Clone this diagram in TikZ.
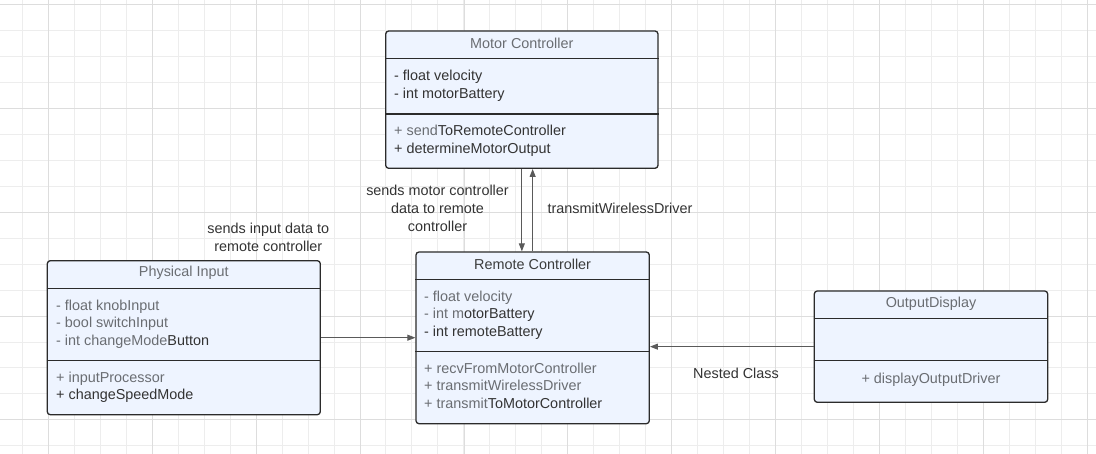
\documentclass[tikz,border=0pt]{standalone}
\usepackage{fontspec}
\setmainfont{Liberation Sans}
\usetikzlibrary{arrows.meta}
\definecolor{gridminor}{HTML}{EDEDED}
\definecolor{gridmajor}{HTML}{DDDDDD}
\definecolor{boxfill}{HTML}{EEF4FF}
\definecolor{boxline}{HTML}{2B2B2B}
\definecolor{tgray}{HTML}{6A6D72}
\definecolor{tdark}{HTML}{333333}
\definecolor{wire}{HTML}{5A5A5A}
\tikzset{
  classbox/.style={draw=boxline,line width=1.3pt,fill=boxfill,rounded corners=3pt,inner sep=0pt},
  divider/.style={draw=boxline,line width=1.3pt},
  member/.style={anchor=base west,inner sep=0pt,text=tgray,font=\fontsize{14.4}{17}\selectfont},
  title/.style={inner sep=0pt,text=tgray,font=\fontsize{14.4}{17}\selectfont},
  lbl/.style={inner sep=0pt,text=tdark,align=center,font=\fontsize{14.4}{18}\selectfont},
  wirearrow/.style={draw=wire,line width=0.9pt,-{Triangle[length=8pt,width=6pt]}}
}
\begin{document}
\begin{tikzpicture}[x=1pt,y=-1pt]
      \useasboundingbox[fill=white] (0,0) rectangle (1096,454);
      % grid
      \foreach \k in {0,...,41} \draw[gridminor,line width=0.8pt] ({22.3+25.97*\k},0) -- ++(0,454);
      \foreach \k in {0,...,17} \draw[gridminor,line width=0.8pt] (0,{4.3+25.97*\k}) -- ++(1096,0);
      \foreach \k in {0,...,10} \draw[gridmajor,line width=0.8pt] ({48.3+103.9*\k},0) -- ++(0,454);
      \foreach \k in {0,...,4} \draw[gridmajor,line width=0.8pt] (0,{4.3+103.9*\k}) -- ++(1096,0);

      % Motor Controller
      \node[classbox,minimum width=272.3pt,minimum height=137.3pt] (motor) at (521.85,99.65) {};
      \draw[divider] (motor.west |- 0,58.7) -- (motor.east |- 0,58.7);
      \draw[divider] (motor.west |- 0,114) -- (motor.east |- 0,114);
      \node[title] (motorT) at (521.85,43.3) {Motor Controller};
      \foreach \t [count=\i] in {- float velocity,- int motorBattery}
        \node[member,text=tdark] (motorA\i) at (394,{81+17.3*(\i-1)}) {\t};
      \foreach \t [count=\i] in {+ send\textcolor{tdark}{ToRemoteController},\textcolor{tdark}{+ determineMotorOutput}}
        \node[member] (motorM\i) at (394,{136+17.3*(\i-1)}) {\t};

      % Remote Controller
      \node[classbox,minimum width=233.3pt,minimum height=171.7pt] (remote) at (532.65,337.85) {};
      \draw[divider] (remote.west |- 0,279.7) -- (remote.east |- 0,279.7);
      \draw[divider] (remote.west |- 0,351.7) -- (remote.east |- 0,351.7);
      \node[title,text=tdark!85!tgray] (remoteT) at (532.65,264) {Remote Controller};
      \foreach \t [count=\i] in {- float velocity,- int m\textcolor{tdark}{otorBattery},\textcolor{tdark}{- int remoteBattery}}
        \node[member] (remoteA\i) at (424,{301.7+17.2*(\i-1)}) {\t};
      \foreach \t [count=\i] in {+ recvFromMotorController,+ transmitWirelessDriver,+ transmit\textcolor{tdark}{ToMotorController}}
        \node[member] (remoteM\i) at (424,{373.3+17.5*(\i-1)}) {\t};

      % Physical Input
      \node[classbox,minimum width=273pt,minimum height=154pt] (phys) at (183.8,337.7) {};
      \draw[divider] (phys.west |- 0,288.7) -- (phys.east |- 0,288.7);
      \draw[divider] (phys.west |- 0,360.3) -- (phys.east |- 0,360.3);
      \node[title] (physT) at (183.8,272.7) {Physical Input};
      \foreach \t [count=\i] in {- float knobInput,- bool switchInput,- int changeMode\textcolor{tdark}{Button}}
        \node[member] (physA\i) at (56,{310.7+17.2*(\i-1)}) {\t};
      \foreach \t [count=\i] in {+ inputProcessor,\textcolor{tdark}{+ changeSpeedMode}}
        \node[member] (physM\i) at (56,{382.3+17.7*(\i-1)}) {\t};

      % OutputDisplay
      \node[classbox,minimum width=233.4pt,minimum height=111.3pt] (output) at (931,346.65) {};
      \draw[divider] (output.west |- 0,318.7) -- (output.east |- 0,318.7);
      \draw[divider] (output.west |- 0,360.3) -- (output.east |- 0,360.3);
      \node[title] (outputT) at (931,303.3) {OutputDisplay};
      \node[title] (outputM1) at (931,380) {+ displayOutputDriver};

      % connectors
      \draw[wirearrow] (motor.south) -- (motor.south |- remote.north);
      \draw[wirearrow] (remote.north) -- (remote.north |- motor.south);
      \draw[wirearrow] (phys.east) -- (phys.east -| remote.west);
      \draw[wirearrow] (output.west) -- (output.west -| remote.east);

      % labels
      \node[lbl] (lblMotor) at (437.5,208) {sends motor controller\\data to remote\\controller};
      \node[lbl] (lblWireless) at (620,208) {transmitWirelessDriver};
      \node[lbl] (lblInput) at (268.3,237.5) {sends input data to\\remote controller};
      \node[lbl] (lblNested) at (736,373.3) {Nested Class};
\end{tikzpicture}
\end{document}
